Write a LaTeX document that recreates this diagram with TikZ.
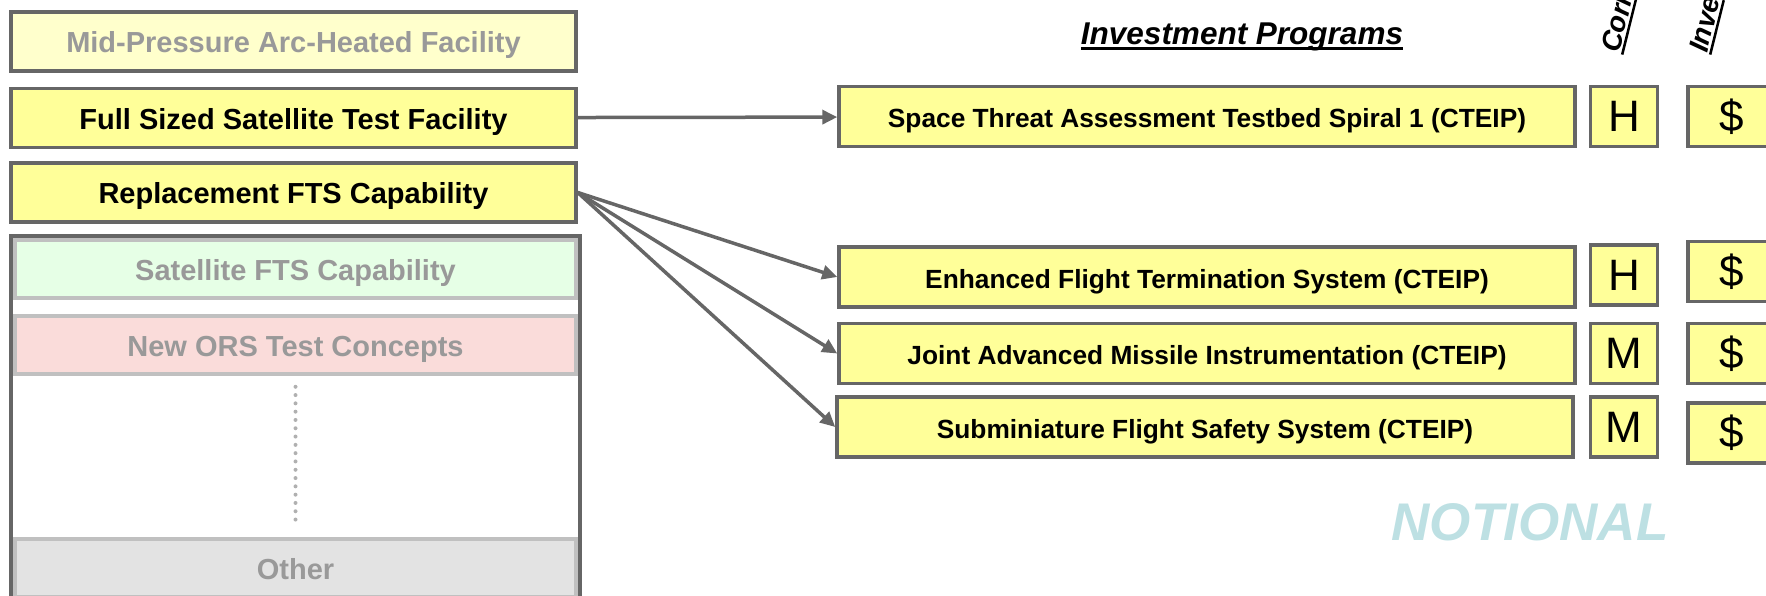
\documentclass[tikz,border=0pt]{standalone}
\usepackage{fontspec}
\setmainfont{Liberation Sans}
\usetikzlibrary{positioning,arrows.meta}
\definecolor{boxgray}{HTML}{666666}
\definecolor{softgray}{HTML}{C0C0C0}
\definecolor{dotgray}{HTML}{B0B0B0}
\definecolor{textgray}{HTML}{999999}
\definecolor{progyellow}{HTML}{FFFF99}
\definecolor{paleyellow}{HTML}{FFFFCC}
\definecolor{palegreen}{HTML}{E6FFE6}
\definecolor{palered}{HTML}{FADCDA}
\definecolor{palegray}{HTML}{E3E3E3}
\definecolor{notional}{HTML}{BDE0E3}
\newcommand{\ulined}[1]{\setbox0\hbox{#1}\rlap{\rule[-0.16em]{\wd0}{0.09em}}\box0}

\begin{document}
\begin{tikzpicture}[
    x=1pt, y=-1pt,
    node distance=12pt,
    facility/.style={draw=boxgray, line width=3.5pt, fill=progyellow, minimum width=565pt, minimum height=59pt,
        inner sep=0pt, text height=23pt, text depth=0pt, font=\bfseries\fontsize{29}{34}\selectfont},
    candidate/.style={facility, draw=softgray, fill=#1, text=textgray, minimum width=561pt, minimum height=58pt},
    program/.style={draw=boxgray, line width=3.5pt, fill=progyellow, minimum width=736pt, minimum height=60pt,
        inner sep=0pt, text height=22pt, text depth=0pt, font=\bfseries\fontsize{26.3}{31}\selectfont},
    rating/.style={draw=boxgray, line width=3.5pt, fill=progyellow, minimum width=67pt, minimum height=60pt,
        inner sep=0pt, font=\fontsize{44}{50}\selectfont},
    cost/.style={rating, minimum width=88pt, right=27pt of #1},
    link/.style={draw=boxgray, line width=3.5pt, -{Triangle[length=15pt,width=14pt]}},
    header/.style={rotate=76, anchor=base west, inner sep=0pt, font=\bfseries\itshape\fontsize{28}{32}\selectfont}
]
    \useasboundingbox (0,0) rectangle (1766,596);

    \node[facility, fill=paleyellow, text=textgray] (midpressure) at (293.5,41.5) {Mid-Pressure Arc-Heated Facility};
    \node[facility] (fullsized) at (293.5,118) {Full Sized Satellite Test Facility};
    \node[facility] (replacement) at (293.5,192.5) {Replacement FTS Capability};

    \draw[boxgray, line width=3.5pt] (11,640) -- (11,236) -- (580,236) -- (580,640);
    \node[candidate=palegreen] (satfts) at (295.5,269) {Satellite FTS Capability};
    \node[candidate=palered] (newors) at (295.5,345) {New ORS Test Concepts};
    \node[candidate=palegray] (other) at (295.5,568) {Other};
    \draw[dotgray, line width=4pt, line cap=round, dash pattern=on 0pt off 8.3pt,
        shorten <=11pt, shorten >=15pt] (newors) -- (other);

    \node[font=\bfseries\itshape\fontsize{31.5}{36}\selectfont] (invtitle) at (1242,37) {\ulined{Investment Programs}};
    \node[header] (corrhead) at (1619,54) {\ulined{Corr}};
    \node[header] (invehead) at (1707,54) {\ulined{Inve}};

    \node[program] (threat) at (1207,116.5) {Space Threat Assessment Testbed Spiral 1 (CTEIP)};
    \node[program] (eft) at (1207,277) {Enhanced Flight Termination System (CTEIP)};
    \node[program] (jami) at (1207,353.5) {Joint Advanced Missile Instrumentation (CTEIP)};
    \node[program] (sfss) at (1205,427) {Subminiature Flight Safety System (CTEIP)};

    \node[rating, right=of threat] (threatrisk) {H};
    \node[rating, right=of eft, yshift=2pt] (eftrisk) {H};
    \node[rating, right=of jami] (jamirisk) {M};
    \node[rating, right=14pt of sfss] (sfssrisk) {M};

    \node[cost=threatrisk] (threatcost) {\$};
    \node[cost=eftrisk, yshift=3.5pt] (eftcost) {\$};
    \node[cost=jamirisk] (jamicost) {\$};
    \node[cost=sfssrisk, yshift=-6pt] (sfsscost) {\$};

    \draw[link] (fullsized) -- (threat);
    \draw[link] (replacement.east) -- (eft.west);
    \draw[link] (replacement.east) -- (jami.west);
    \draw[link] (replacement.east) -- (sfss.west);

    \node[text=notional, font=\bfseries\itshape\fontsize{53}{60}\selectfont] (stamp) at (1530,522) {NOTIONAL};
\end{tikzpicture}
\end{document}
